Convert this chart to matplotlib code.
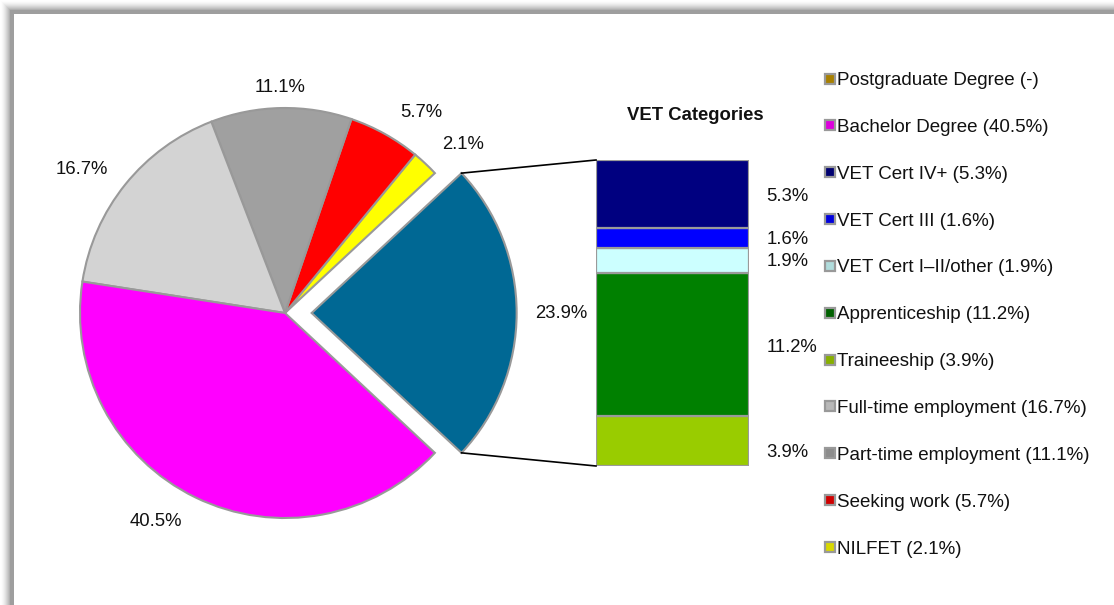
import math
import matplotlib
matplotlib.use("Agg")
import matplotlib.pyplot as plt
from matplotlib.lines import Line2D
from matplotlib.patches import Rectangle

plt.rcParams['font.family'] = ['Liberation Sans', 'DejaVu Sans']

# pie: counter-clockwise starting from the exploded VET slice
pie_labels = ['VET', 'NILFET', 'Seeking work', 'Part-time employment',
              'Full-time employment', 'Bachelor Degree']
pie_values = [23.9, 2.1, 5.7, 11.1, 16.7, 40.5]
pie_colors = ['#006894', '#FFFF00', '#FF0000', '#A0A0A0', '#D3D3D3', '#FF00FF']

# stacked VET bar, bottom to top
vet_labels = ['Traineeship', 'Apprenticeship', 'VET Cert I\u2013II/other',
              'VET Cert III', 'VET Cert IV+']
vet_values = [3.9, 11.2, 1.9, 1.6, 5.3]
vet_colors = ['#99CC00', '#008000', '#CCFFFF', '#0000FF', '#000080']

legend_labels = ['Postgraduate Degree (-)', 'Bachelor Degree (40.5%)',
                 'VET Cert IV+ (5.3%)', 'VET Cert III (1.6%)',
                 'VET Cert I\u2013II/other (1.9%)', 'Apprenticeship (11.2%)',
                 'Traineeship (3.9%)', 'Full-time employment (16.7%)',
                 'Part-time employment (11.1%)', 'Seeking work (5.7%)',
                 'NILFET (2.1%)']
legend_colors = ['#A88000', '#DD00DD', '#000070', '#0000DD', '#B0DCDC',
                 '#006000', '#88B000', '#B8B8B8', '#8C8C8C', '#D00000',
                 '#D8D800']

W, H = 1114, 605
fig = plt.figure(figsize=(W / 100, H / 100), dpi=100)
fig.patch.set_facecolor('white')

# frame with soft shadow on top/left
for p in range(14):
    if p >= 10:
        lev = 0.62
    else:
        lev = 1 - 0.36 * (p / 10) ** 1.6
    fig.add_artist(Rectangle((p, -100), W + 200, H - p + 100,
                             facecolor=(lev, lev, lev), edgecolor='none',
                             transform=None, zorder=-20))
fig.add_artist(Rectangle((14, -100), W + 200, H - 14 + 100,
                         facecolor='white', edgecolor='none',
                         transform=None, zorder=-19))

# pie axes, radius 1 = 205 px, centred at (285, 313) px from top-left
R = 205
cx, cy = 285, H - 313
half = 1.5 * R
ax = fig.add_axes([(cx - half) / W, (cy - half) / H, 2 * half / W, 2 * half / H])
explode = [0.13, 0, 0, 0, 0, 0]
wedges, _ = ax.pie(pie_values, colors=pie_colors, explode=explode,
                   startangle=-pie_values[0] * 3.6 / 2, counterclock=True,
                   radius=1, wedgeprops=dict(edgecolor='#999999', linewidth=1.5))
ax.set_xlim(-1.5, 1.5)
ax.set_ylim(-1.5, 1.5)
ax.set_aspect('equal')
ax.axis('off')

# label angle (deg) and distance relative to each wedge centre
lab_ang = [0, 43.4, 55.8, 91.2, 144.7, 238.3]
lab_dist = [1.22, 1.194, 1.18, 1.102, 1.214, 1.198]
for w, v, a, d in zip(wedges, pie_values, lab_ang, lab_dist):
    x0, y0 = w.center
    ax.text(x0 + d * math.cos(math.radians(a)), y0 + d * math.sin(math.radians(a)),
            f'{v:.1f}%', ha='center', va='center', fontsize=13.3, color='#111111')

# stacked bar
bx0, bx1, by0, by1 = 596, 749, 160, 466
axb = fig.add_axes([bx0 / W, (H - by1) / H, (bx1 - bx0) / W, (by1 - by0) / H])
bottom = 0
bar_offsets = [-8, -2, -1, -1, -2]
for v, c, off in zip(vet_values, vet_colors, bar_offsets):
    axb.bar(0, v, bottom=bottom, width=1, color=c, edgecolor='#9A9A9A', linewidth=1.6)
    axb.annotate(f'{v:.1f}%', xy=(0.5, bottom + v / 2), xytext=(12.5, off),
                 textcoords='offset points', ha='left', va='center',
                 fontsize=13.3, color='#111111')
    bottom += v
axb.set_xlim(-0.5, 0.5)
axb.set_ylim(0, sum(vet_values))
axb.axis('off')
axb.text(0.647, 1 + 44 / 306, 'VET Categories', transform=axb.transAxes,
         ha='center', va='center', fontsize=13.3, fontweight='bold', color='#111111')

# connector lines from exploded wedge to bar
vw = wedges[0]
corners = []
for t in (vw.theta2, vw.theta1):
    corners.append(ax.transData.transform(
        (vw.center[0] + math.cos(math.radians(t)), vw.center[1] + math.sin(math.radians(t)))))
btop = axb.transData.transform((-0.5, sum(vet_values)))
bbot = axb.transData.transform((-0.5, 0))
for (p0, p1) in ((corners[0], btop), (corners[1], bbot)):
    fig.add_artist(Line2D([p0[0], p1[0]], [p0[1], p1[1]], color='black',
                          linewidth=1.2, transform=None))

# legend
handles = [Line2D([], [], marker='s', linestyle='none', markersize=6.5,
                  markerfacecolor=c, markeredgecolor='#999999', markeredgewidth=1.6)
           for c in legend_colors]
fig.legend(handles, legend_labels, loc='upper left',
           bbox_to_anchor=(824 / W, 1 - 72 / H), frameon=False, fontsize=13.5,
           labelspacing=1.585, handlelength=0.6, handletextpad=0.1,
           borderpad=0, borderaxespad=0, labelcolor='#111111')

fig.savefig('out.png', dpi=100, facecolor='white')
